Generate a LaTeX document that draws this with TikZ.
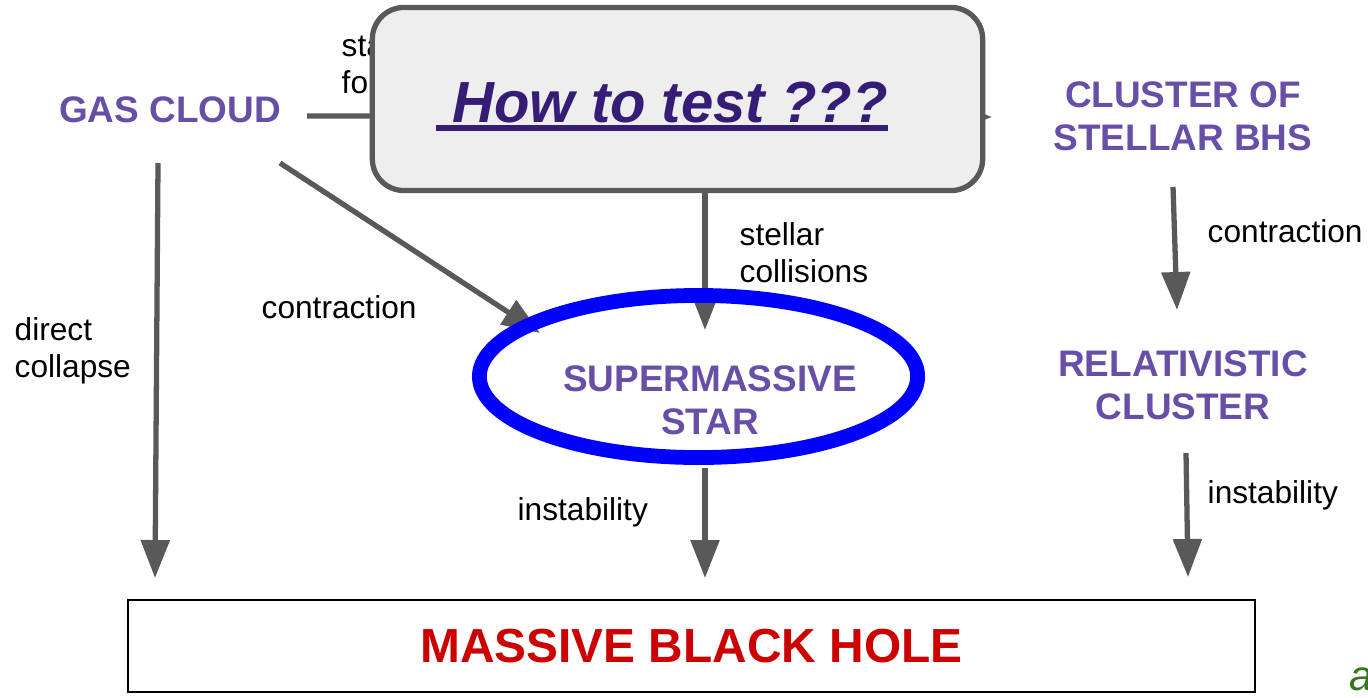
\documentclass[tikz,border=0pt]{standalone}
\usepackage{fontspec}
\setmainfont{Liberation Sans}
\usetikzlibrary{arrows.meta,shapes.geometric}
\definecolor{headpurple}{HTML}{674EA7}
\definecolor{howpurple}{HTML}{351C75}
\definecolor{flowgray}{HTML}{595959}
\definecolor{boxgray}{HTML}{EEEEEE}
\definecolor{bhred}{HTML}{CC0000}
\definecolor{notegreen}{HTML}{38761D}
\newcommand{\howline}[1]{\setbox0\hbox{#1}\rlap{\rule[-2.5pt]{\wd0}{1.6pt}}\box0}

\begin{document}
\begin{tikzpicture}[
  x=0.01cm,y=-0.01cm,
  every node/.style={font=\fontsize{9}{10.5}\selectfont},
  head/.style={font=\fontsize{10.5}{12.2}\selectfont\bfseries,text=headpurple,align=center,inner sep=0pt},
  lbl/.style={align=left,anchor=base west,inner sep=0pt},
  flow/.style={draw=flowgray,line width=1.5pt,-{Triangle[length=10.8pt,width=8pt]}}
]
  \useasboundingbox (0,0) rectangle (1368,697);

  \node[head] (gas) at (170,110) {GAS CLOUD};
  \node[head] (clu) at (1183,116) {CLUSTER OF\\STELLAR BHS};
  \node[head] (rel) at (1183,385) {RELATIVISTIC\\CLUSTER};
  \node[draw,line width=0.6pt,minimum width=11.27cm,minimum height=0.92cm,inner sep=0pt,
        font=\fontsize{13.6}{15}\selectfont\bfseries,text=bhred] (mbh) at (691.5,646) {MASSIVE BLACK HOLE};

  \coordinate (gasR) at (307,116);
  \coordinate (cluL) at (992,117);
  \coordinate (gasD) at (158,163);
  \coordinate (mbhL) at (155,578);
  \coordinate (gasS) at (280,163);
  \coordinate (smsL) at (540,333);
  \coordinate (colT) at (705,150);
  \coordinate (smsT) at (705,330);
  \coordinate (smsB) at (705,468);
  \coordinate (mbhM) at (705,578);
  \coordinate (cluB) at (1173,187);
  \coordinate (relT) at (1177,310);
  \coordinate (relB) at (1186,453);
  \coordinate (mbhR) at (1188,577);

  \draw[flow] (gasR) -- (cluL);
  \draw[flow] (gasD) -- (mbhL);
  \draw[flow] (gasS) -- (smsL);
  \draw[flow] (colT) -- (smsT);
  \draw[flow] (smsB) -- (mbhM);
  \draw[flow] (cluB) -- (relT);
  \draw[flow] (relB) -- (mbhR);

  \node[lbl] (form) at (341,93) {star\\formation};
  \node[lbl] (direct) at (14,377) {direct\\collapse};
  \node[lbl] (contrl) at (261,318) {contraction};
  \node[lbl] (coll) at (739,282) {stellar\\collisions};
  \node[lbl] (instm) at (517,520) {instability};
  \node[lbl] (contrr) at (1207,242) {contraction};
  \node[lbl] (instr) at (1207,503) {instability};

  \node[ellipse,draw=blue,line width=4.2pt,minimum width=4.38cm,minimum height=1.62cm,inner sep=0pt] (sms) at (698.5,376.5) {};
  \node[head] (smstxt) at (710,400) {SUPERMASSIVE\\STAR};

  \node[draw=flowgray,fill=boxgray,line width=1.5pt,rounded corners=9pt,
        minimum width=6.1cm,minimum height=1.83cm] (howbox) at (677.5,99) {};
  \node[anchor=base,inner sep=0pt,text=howpurple,
        font=\fontsize{16.5}{18}\selectfont\bfseries\itshape] (howto) at (662,122) {\howline{\ How to test ???}};

  \node[anchor=base west,inner sep=0pt,text=notegreen,font=\fontsize{12}{14}\selectfont\itshape] (note) at (1349,690) {a};
\end{tikzpicture}
\end{document}
